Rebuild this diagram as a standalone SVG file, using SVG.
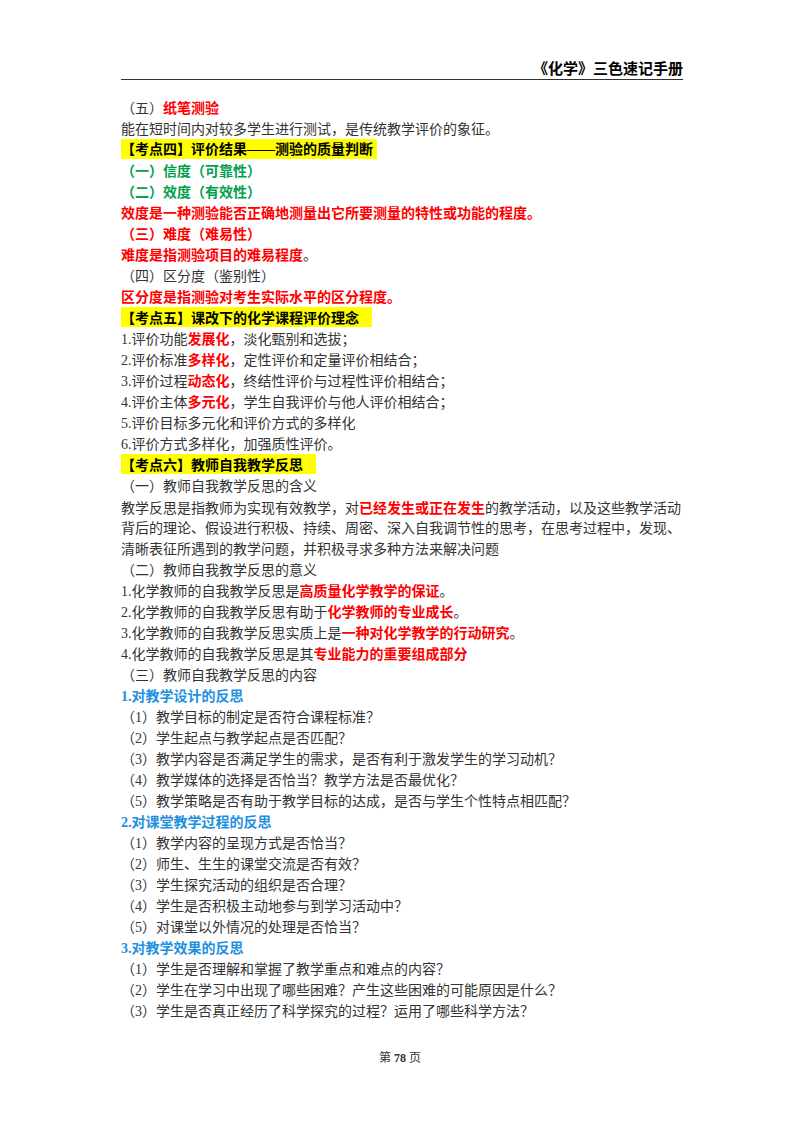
<svg xmlns="http://www.w3.org/2000/svg" width="800" height="1132" viewBox="0 0 800 1132">
<style>
text{font-family:"Liberation Serif","Noto Sans CJK SC",serif;font-size:14px;fill:#333}
.b{font-weight:bold}
.r{fill:#ff0000;font-weight:bold}
.g{fill:#00a050;font-weight:bold}
.k{fill:#000;font-weight:bold}
.bl{fill:#1e90e0;font-weight:bold}
.hl{fill:#ffff00}
</style>
<rect width="800" height="1132" fill="#fff"/>
<text x="683" y="74" text-anchor="end" class="k" style="font-size:15px">《化学》三色速记手册</text>
<line x1="121" y1="79.5" x2="683" y2="79.5" stroke="#333" stroke-width="1"/>
<rect class="hl" x="121" y="139" width="256" height="20"/>
<rect class="hl" x="121" y="307" width="251" height="20"/>
<rect class="hl" x="121" y="454" width="195" height="20"/>
<text x="121" y="113">（五）<tspan class="r">纸笔测验</tspan></text>
<text x="121" y="134">能在短时间内对较多学生进行测试，是传统教学评价的象征。</text>
<text x="121" y="154" class="k">【考点四】评价结果——测验的质量判断</text>
<text x="121" y="176" class="g">（一）信度（可靠性）</text>
<text x="121" y="197" class="g">（二）效度（有效性）</text>
<text x="121" y="218" class="r">效度是一种测验能否正确地测量出它所要测量的特性或功能的程度。</text>
<text x="121" y="239" class="r">（三）难度（难易性）</text>
<text x="121" y="260"><tspan class="r">难度是指测验项目的难易程度</tspan>。</text>
<text x="121" y="281">（四）区分度（鉴别性）</text>
<text x="121" y="302" class="r">区分度是指测验对考生实际水平的区分程度。</text>
<text x="121" y="323" class="k">【考点五】课改下的化学课程评价理念</text>
<text x="121" y="344">1.评价功能<tspan class="r">发展化</tspan>，淡化甄别和选拔；</text>
<text x="121" y="365">2.评价标准<tspan class="r">多样化</tspan>，定性评价和定量评价相结合；</text>
<text x="121" y="386">3.评价过程<tspan class="r">动态化</tspan>，终结性评价与过程性评价相结合；</text>
<text x="121" y="407">4.评价主体<tspan class="r">多元化</tspan>，学生自我评价与他人评价相结合；</text>
<text x="121" y="428">5.评价目标多元化和评价方式的多样化</text>
<text x="121" y="449">6.评价方式多样化，加强质性评价。</text>
<text x="121" y="470" class="k">【考点六】教师自我教学反思</text>
<text x="121" y="491">（一）教师自我教学反思的含义</text>
<text x="121" y="513">教学反思是指教师为实现有效教学，对<tspan class="r">已经发生或正在发生</tspan>的教学活动，以及这些教学活动</text>
<text x="121" y="533">背后的理论、假设进行积极、持续、周密、深入自我调节性的思考，在思考过程中，发现、</text>
<text x="121" y="554">清晰表征所遇到的教学问题，并积极寻求多种方法来解决问题</text>
<text x="121" y="575">（二）教师自我教学反思的意义</text>
<text x="121" y="596">1.化学教师的自我教学反思是<tspan class="r">高质量化学教学的保证</tspan>。</text>
<text x="121" y="617">2.化学教师的自我教学反思有助于<tspan class="r">化学教师的专业成长</tspan>。</text>
<text x="121" y="638">3.化学教师的自我教学反思实质上是<tspan class="r">一种对化学教学的行动研究</tspan>。</text>
<text x="121" y="659">4.化学教师的自我教学反思是其<tspan class="r">专业能力的重要组成部分</tspan></text>
<text x="121" y="680">（三）教师自我教学反思的内容</text>
<text x="121" y="701" class="bl">1.对教学设计的反思</text>
<text x="121" y="722">（1）教学目标的制定是否符合课程标准？</text>
<text x="121" y="743">（2）学生起点与教学起点是否匹配？</text>
<text x="121" y="764">（3）教学内容是否满足学生的需求，是否有利于激发学生的学习动机？</text>
<text x="121" y="785">（4）教学媒体的选择是否恰当？教学方法是否最优化？</text>
<text x="121" y="806">（5）教学策略是否有助于教学目标的达成，是否与学生个性特点相匹配？</text>
<text x="121" y="827" class="bl">2.对课堂教学过程的反思</text>
<text x="121" y="848">（1）教学内容的呈现方式是否恰当？</text>
<text x="121" y="869">（2）师生、生生的课堂交流是否有效？</text>
<text x="121" y="890">（3）学生探究活动的组织是否合理？</text>
<text x="121" y="911">（4）学生是否积极主动地参与到学习活动中？</text>
<text x="121" y="932">（5）对课堂以外情况的处理是否恰当？</text>
<text x="121" y="953" class="bl">3.对教学效果的反思</text>
<text x="121" y="974">（1）学生是否理解和掌握了教学重点和难点的内容？</text>
<text x="121" y="995">（2）学生在学习中出现了哪些困难？产生这些困难的可能原因是什么？</text>
<text x="121" y="1016">（3）学生是否真正经历了科学探究的过程？运用了哪些科学方法？</text>
<text x="400" y="1062" text-anchor="middle" style="font-size:12px">第 <tspan class="b">78</tspan> 页</text>
</svg>
